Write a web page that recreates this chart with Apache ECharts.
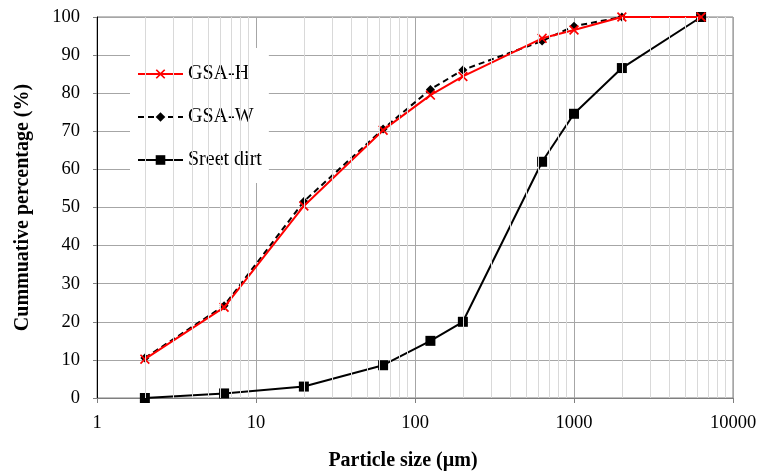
<!DOCTYPE html>
<html>
<head>
<meta charset="utf-8">
<script src="https://cdn.jsdelivr.net/npm/echarts@6/dist/echarts.min.js"></script>
<style>
  html, body { margin: 0; padding: 0; background: #fff; }
  #main { width: 770px; height: 472px; }
</style>
</head>
<body>
<div id="main"></div>
<script>
var app = echarts.init(document.getElementById('main'));

// particle size (um)
var sizes = [2, 6.3, 20, 63, 125, 200, 630, 1000, 2000, 6300];
var gsaH = [10.2, 23.8, 50.4, 70.3, 79.5, 84.4, 94.4, 96.6, 100, 100];
var gsaW = [10.5, 24.2, 51.6, 70.6, 81.0, 86.1, 93.7, 97.6, 100, 100];
var streetDirt = [0, 1.2, 3.0, 8.6, 15.0, 20.0, 62.0, 74.6, 86.6, 100];

// minor log grid lines
var minorGrid = [];
[1, 10, 100, 1000].forEach(function (d) {
    for (var k = 2; k <= 9; k++) minorGrid.push(d * k);
});

function pairs(ys) {
    return sizes.map(function (x, i) { return [x, ys[i]]; });
}

var font = 'Liberation Serif';
var xMark = 'path://M0,1.2 L1.2,0 L5,3.8 L8.8,0 L10,1.2 L6.2,5 L10,8.8 L8.8,10 L5,6.2 L1.2,10 L0,8.8 L3.8,5 Z';

option = {
    animation: false,
    grid: {
        left: 97, right: 37, top: 17, bottom: 74,
        outerBoundsMode: 'none',
        show: true, borderColor: '#7f7f7f', borderWidth: 1
    },
    legend: {
        orient: 'vertical',
        left: 130,
        top: 48,
        itemWidth: 45,
        itemHeight: 12,
        itemGap: 23,
        padding: [16, 7, 13, 7],
        backgroundColor: '#fff',
        textStyle: { fontFamily: font, fontSize: 20, lineHeight: 20, color: '#000' },
        data: ['GSA-H', 'GSA-W', 'Sreet dirt']
    },
    xAxis: {
        type: 'log',
        logBase: 10,
        min: 1,
        max: 10000,
        name: 'Particle size (µm)',
        nameLocation: 'middle',
        nameGap: 53,
        nameTextStyle: { fontFamily: font, fontSize: 20, fontWeight: 'bold', color: '#000', padding: [0, 24, 0, 0] },
        axisLine: { lineStyle: { color: '#7f7f7f', width: 1 } },
        axisTick: { show: true, inside: false, length: 5, lineStyle: { color: '#7f7f7f' } },
        axisLabel: {
            fontFamily: font, fontSize: 18.5, color: '#000', margin: 16,
            formatter: function (v) { return String(v); }
        },
        splitLine: { show: true, lineStyle: { color: '#a6a6a6', width: 1 } }
    },
    yAxis: {
        type: 'value',
        min: 0,
        max: 100,
        interval: 10,
        name: 'Cummuative percentage (%)',
        nameLocation: 'middle',
        nameGap: 64,
        nameTextStyle: { fontFamily: font, fontSize: 20, fontWeight: 'bold', color: '#000' },
        axisLine: { show: true, lineStyle: { color: '#000', width: 1 } },
        axisTick: { show: true, length: 4, lineStyle: { color: '#7f7f7f' } },
        axisLabel: { fontFamily: font, fontSize: 18.5, color: '#000', margin: 17 },
        splitLine: { show: true, lineStyle: { color: '#a6a6a6', width: 1 } }
    },
    series: [
        {
            name: 'minor',
            type: 'line',
            data: [],
            z: 1,
            silent: true,
            markLine: {
                silent: true,
                symbol: 'none',
                label: { show: false },
                lineStyle: { color: '#d9d9d9', width: 1, type: 'solid' },
                data: minorGrid.map(function (v) { return { xAxis: v }; })
            }
        },
        {
            name: 'GSA-H',
            type: 'line',
            z: 4,
            data: pairs(gsaH),
            symbol: xMark,
            symbolSize: 10,
            itemStyle: { color: '#ff0000' },
            lineStyle: { color: '#ff0000', width: 2 }
        },
        {
            name: 'GSA-W',
            type: 'line',
            z: 3,
            data: pairs(gsaW),
            symbol: 'diamond',
            symbolSize: 9,
            itemStyle: { color: '#000' },
            lineStyle: { color: '#000', width: 2, type: [6, 4] }
        },
        {
            name: 'Sreet dirt',
            type: 'line',
            z: 3,
            data: pairs(streetDirt),
            symbol: 'rect',
            symbolSize: 10,
            itemStyle: { color: '#000' },
            lineStyle: { color: '#000', width: 2 }
        }
    ]
};

app.setOption(option);
</script>
</body>
</html>
